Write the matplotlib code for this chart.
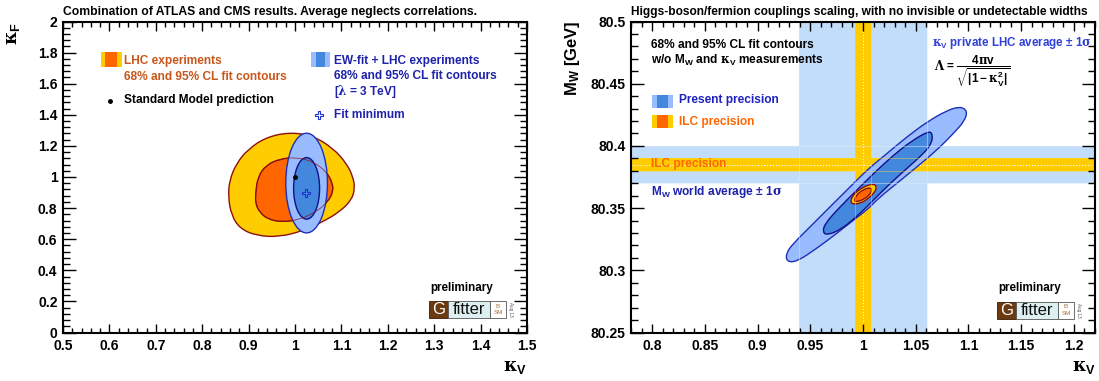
import matplotlib
matplotlib.use("Agg")
import matplotlib.pyplot as plt
from matplotlib.patches import Rectangle, Ellipse, PathPatch
from matplotlib.path import Path
from matplotlib.ticker import FixedLocator, MultipleLocator, FixedFormatter

plt.rcParams['font.family'] = ['Liberation Sans', 'DejaVu Sans']
plt.rcParams['font.weight'] = 'bold'
plt.rcParams['mathtext.fontset'] = 'custom'
plt.rcParams['mathtext.rm'] = 'DejaVu Serif'
plt.rcParams['mathtext.it'] = 'Liberation Sans:bold'
plt.rcParams['mathtext.bf'] = 'Liberation Sans:bold'
plt.rcParams['mathtext.sf'] = 'Liberation Sans:bold'
plt.rcParams['mathtext.default'] = 'bf'

# ---------------- data: left panel (kappa_V, kappa_F) ----------------
lhc95_kv = [0.989, 1.039, 1.082, 1.111, 1.125, 1.129, 1.122, 1.096, 1.060, 1.017,
            0.967, 0.917, 0.881, 0.863, 0.856, 0.859, 0.874, 0.899, 0.938]
lhc95_kf = [1.288, 1.265, 1.185, 1.088, 1.002, 0.927, 0.852, 0.776, 0.712, 0.654,
            0.615, 0.622, 0.669, 0.755, 0.873, 0.981, 1.088, 1.179, 1.256]
lhc68_kv = [0.915, 0.920, 0.938, 0.967, 1.003, 1.039, 1.068, 1.081, 1.082, 1.071,
            1.046, 1.010, 0.974, 0.942, 0.923, 0.915]
lhc68_kf = [0.895, 1.002, 1.077, 1.116, 1.127, 1.099, 1.034, 0.959, 0.905, 0.841,
            0.776, 0.727, 0.710, 0.727, 0.776, 0.830]
# EW-fit + LHC ellipses: centre (kV, kF), full width, full height
ew95_center = (1.025, 0.961)
ew95_size = (0.0898, 0.641)
ew68_center = (1.025, 0.927)
ew68_size = (0.056, 0.396)
sm_point = (1.0, 1.0)
fit_min = (1.023, 0.90)

left_xticks = [0.5, 0.6, 0.7, 0.8, 0.9, 1.0, 1.1, 1.2, 1.3, 1.4, 1.5]
left_xlabels = ['0.5', '0.6', '0.7', '0.8', '0.9', '1', '1.1', '1.2', '1.3', '1.4', '1.5']
left_yticks = [0, 0.2, 0.4, 0.6, 0.8, 1.0, 1.2, 1.4, 1.6, 1.8, 2.0]
left_ylabels = ['0', '0.2', '0.4', '0.6', '0.8', '1', '1.2', '1.4', '1.6', '1.8', '2']

# ---------------- data: right panel (kappa_V, M_W) ----------------
pres95_kv = [1.0919, 1.0989, 1.0967, 1.0856, 1.0698, 1.0509, 1.0319, 1.0161, 1.0035, 0.9908,
             0.9751, 0.9561, 0.9372, 0.9277, 0.9270, 0.9339, 0.9498, 0.9687, 0.9877, 1.0035,
             1.0224, 1.0414, 1.0604, 1.0793]
pres95_mw = [80.4317, 80.4284, 80.4204, 80.4098, 80.3964, 80.3830, 80.3697, 80.3590, 80.3483, 80.3403,
             80.3296, 80.3176, 80.3069, 80.3069, 80.3136, 80.3216, 80.3349, 80.3510, 80.3670, 80.3804,
             80.3937, 80.4071, 80.4191, 80.4284]
pres68_kv = [1.0619, 1.0660, 1.0651, 1.0572, 1.0414, 1.0256, 1.0098, 0.9940, 0.9782, 0.9656,
             0.9618, 0.9640, 0.9782, 0.9940, 1.0098, 1.0287, 1.0445]
pres68_mw = [80.4119, 80.4098, 80.4018, 80.3937, 80.3817, 80.3697, 80.3563, 80.3430, 80.3323, 80.3283,
             80.3309, 80.3377, 80.3510, 80.3643, 80.3777, 80.3924, 80.4030]
ilc95_kv = [0.9893, 0.9883, 0.9924, 1.0003, 1.0098, 1.0129, 1.0114, 1.0051, 0.9972]
ilc95_mw = [80.3531, 80.3569, 80.3622, 80.3670, 80.3697, 80.3675, 80.3630, 80.3577, 80.3537]
ilc68_kv = [0.9915, 0.9940, 1.0003, 1.0066, 1.0085, 1.0066, 1.0009, 0.9940]
ilc68_mw = [80.3558, 80.3609, 80.3649, 80.3665, 80.3649, 80.3609, 80.3571, 80.3550]

kv_avg, kv_err_now, kv_err_ilc = 1.0, 0.061, 0.0075
mw_avg, mw_err_now, mw_err_ilc = 80.385, 0.015, 0.005

right_xticks = [0.8, 0.85, 0.9, 0.95, 1.0, 1.05, 1.1, 1.15, 1.2]
right_xlabels = ['0.8', '0.85', '0.9', '0.95', '1', '1.05', '1.1', '1.15', '1.2']
right_yticks = [80.25, 80.3, 80.35, 80.4, 80.45, 80.5]
right_ylabels = ['80.25', '80.3', '80.35', '80.4', '80.45', '80.5']

# ---------------- styles ----------------
YELLOW = '#FFCC00'
ORANGE = '#FF6600'
DARKRED = '#8B1010'
LBLUE = '#99BBFF'
DBLUE = '#4488DD'
BLUEEDGE = '#1F2FB8'
BAND = '#C2DDFA'
LHC_TXT = '#C8561A'
EW_TXT = '#1E22AA'
KV_TXT = '#3040D8'

KAPPA_V = r'$\mathrm{\kappa}_{V}$'
KAPPA_F = r'$\mathrm{\kappa}_{F}$'

W, H = 1099, 381
fig = plt.figure(figsize=(W / 100, H / 100), dpi=100)


def ftext(px, py, s, **kw):
    kw.setdefault('va', 'center')
    kw.setdefault('ha', 'left')
    return fig.text(px / W, 1 - py / H, s, **kw)


def frect(x0, y0, x1, y1, **kw):
    kw.setdefault('lw', 0)
    fig.add_artist(Rectangle((x0 / W, 1 - y1 / H), (x1 - x0) / W, (y1 - y0) / H,
                             transform=fig.transFigure, **kw))


def smooth_closed(xs, ys):
    pts = list(zip(xs, ys))
    n = len(pts)
    mids = [((pts[i][0] + pts[(i + 1) % n][0]) / 2, (pts[i][1] + pts[(i + 1) % n][1]) / 2)
            for i in range(n)]
    verts = [mids[-1]]
    codes = [Path.MOVETO]
    for i in range(n):
        verts += [pts[i], mids[i]]
        codes += [Path.CURVE3, Path.CURVE3]
    verts.append(mids[-1])
    codes.append(Path.CLOSEPOLY)
    return Path(verts, codes)


top_px, bot_px = 21.5, 332.5
ax1 = fig.add_axes([63 / W, 1 - bot_px / H, 464 / W, (bot_px - top_px) / H])
ax2 = fig.add_axes([631 / W, 1 - bot_px / H, 464 / W, (bot_px - top_px) / H])

# ---------------- left panel ----------------
ax1.set_xlim(0.5, 1.5)
ax1.set_ylim(0, 2)
ax1.add_patch(PathPatch(smooth_closed(lhc95_kv, lhc95_kf), facecolor=YELLOW, edgecolor=DARKRED, lw=1.0, zorder=1))
ax1.add_patch(PathPatch(smooth_closed(lhc68_kv, lhc68_kf), facecolor=ORANGE, edgecolor=DARKRED, lw=1.0, zorder=1.1))
ax1.add_patch(Ellipse(ew95_center, ew95_size[0], ew95_size[1], facecolor=LBLUE, edgecolor=BLUEEDGE, lw=1.0, zorder=1.2))
ax1.add_patch(Ellipse(ew68_center, ew68_size[0], ew68_size[1], facecolor=DBLUE, edgecolor='#10108A', lw=1.0, zorder=1.3))
ax1.add_patch(PathPatch(smooth_closed(lhc68_kv, lhc68_kf), facecolor='none', edgecolor=DARKRED, lw=0.6, alpha=0.8, zorder=1.4))
ax1.plot([sm_point[0]], [sm_point[1]], 'o', color='black', ms=2.5, zorder=3)
ax1.plot([fit_min[0]], [fit_min[1]], 'P', mfc='none', mec='#1E30D0', mew=0.8, ms=6, zorder=3)

# ---------------- right panel ----------------
ax2.set_xlim(0.78, 1.22)
ax2.set_ylim(80.25, 80.5)
ax2.axvspan(kv_avg - kv_err_now, kv_avg + kv_err_now, color=BAND, lw=0, zorder=0.5)
ax2.axhspan(mw_avg - mw_err_now, mw_avg + mw_err_now, color=BAND, lw=0, zorder=0.5)
ax2.axvspan(kv_avg - kv_err_ilc, kv_avg + kv_err_ilc, color=YELLOW, lw=0, zorder=0.6)
ax2.axhspan(mw_avg - mw_err_ilc, mw_avg + mw_err_ilc, color=YELLOW, lw=0, zorder=0.6)
ax2.axvline(kv_avg, color='white', ls=':', lw=0.8, zorder=0.7)
ax2.axhline(mw_avg, color='white', ls=':', lw=0.8, zorder=0.7)

ax2.add_patch(PathPatch(smooth_closed(pres95_kv, pres95_mw), facecolor=LBLUE, edgecolor=BLUEEDGE, lw=1.0, zorder=1))
ax2.add_patch(PathPatch(smooth_closed(pres68_kv, pres68_mw), facecolor=DBLUE, edgecolor='#10108A', lw=1.0, zorder=1.1))
ax2.add_patch(PathPatch(smooth_closed(ilc95_kv, ilc95_mw), facecolor=YELLOW, edgecolor=DARKRED, lw=1.0, zorder=1.2))
ax2.add_patch(PathPatch(smooth_closed(ilc68_kv, ilc68_mw), facecolor=ORANGE, edgecolor=DARKRED, lw=1.0, zorder=1.3))
# faint band edges seen through the contours
for v in (kv_avg - kv_err_now, kv_avg + kv_err_now):
    ax2.axvline(v, color='#D8E8FC', lw=0.8, alpha=0.5, zorder=1.5)
for v in (mw_avg - mw_err_now, mw_avg + mw_err_now):
    ax2.axhline(v, color='#D8E8FC', lw=0.8, alpha=0.5, zorder=1.5)
for v in (kv_avg - kv_err_ilc, kv_avg + kv_err_ilc):
    ax2.axvline(v, color='#FFD633', lw=0.7, alpha=0.45, zorder=1.5)
for v in (mw_avg - mw_err_ilc, mw_avg + mw_err_ilc):
    ax2.axhline(v, color='#FFD633', lw=0.7, alpha=0.45, zorder=1.5)

# ---------------- axes styling ----------------
ax1.xaxis.set_major_locator(FixedLocator(left_xticks))
ax1.xaxis.set_major_formatter(FixedFormatter(left_xlabels))
ax1.xaxis.set_minor_locator(MultipleLocator(0.02))
ax1.yaxis.set_major_locator(FixedLocator(left_yticks))
ax1.yaxis.set_major_formatter(FixedFormatter(left_ylabels))
ax1.yaxis.set_minor_locator(MultipleLocator(0.04))

ax2.xaxis.set_major_locator(FixedLocator(right_xticks))
ax2.xaxis.set_major_formatter(FixedFormatter(right_xlabels))
ax2.xaxis.set_minor_locator(MultipleLocator(0.01))
ax2.yaxis.set_major_locator(FixedLocator(right_yticks))
ax2.yaxis.set_major_formatter(FixedFormatter(right_ylabels))
ax2.yaxis.set_minor_locator(MultipleLocator(0.01))

for ax in (ax1, ax2):
    ax.tick_params(which='both', direction='in', top=True, right=True, width=1.0, labelsize=10, color='black')
    ax.tick_params(axis='x', which='major', length=6.5, pad=5)
    ax.tick_params(axis='x', which='minor', length=3.3)
    ax.tick_params(axis='y', which='major', length=9.5, pad=4)
    ax.tick_params(axis='y', which='minor', length=4.8)
    for sp in ax.spines.values():
        sp.set_linewidth(1.5)
        sp.set_zorder(5)

# ---------------- texts left ----------------
LFS = 8.6
ftext(63, 12, 'Combination of ATLAS and CMS results. Average neglects correlations.', fontsize=8.75)
ftext(14, 22, KAPPA_F, rotation=90, ha='center', va='top', fontsize=13)
ftext(527, 368, KAPPA_V, ha='right', fontsize=13)

frect(100.5, 52, 105, 67, facecolor=YELLOW)
frect(105, 52, 116.5, 67, facecolor=ORANGE)
frect(116.5, 52, 121.6, 67, facecolor=YELLOW)
ftext(124, 60.6, 'LHC experiments', color=LHC_TXT, fontsize=LFS)
ftext(124, 77, '68% and 95% CL fit contours', color=LHC_TXT, fontsize=LFS)
ftext(124, 100.5, 'Standard Model prediction', color='black', fontsize=LFS)
ax1.plot([110 / W], [1 - 100.5 / H], 'o', color='black', ms=2.5, transform=fig.transFigure, clip_on=False)

frect(311.4, 52, 316.3, 67, facecolor=LBLUE)
frect(316.3, 52, 325, 67, facecolor=DBLUE)
frect(325, 52, 329.7, 67, facecolor=LBLUE)
ftext(334, 60.6, 'EW-fit + LHC experiments', color=EW_TXT, fontsize=LFS)
ftext(334, 76, '68% and 95% CL fit contours', color=EW_TXT, fontsize=LFS)
ftext(334, 91.7, r'[$\mathrm{\lambda}$ = 3 TeV]', color=EW_TXT, fontsize=LFS)
ftext(334, 115, 'Fit minimum', color=EW_TXT, fontsize=LFS)
ax1.plot([319 / W], [1 - 115 / H], 'P', mfc='none', mec='#1E30D0', mew=0.8, ms=6,
         transform=fig.transFigure, clip_on=False)

# ---------------- texts right ----------------
ftext(631, 12, 'Higgs-boson/fermion couplings scaling, with no invisible or undetectable widths', fontsize=8.6)
ftext(573, 21, r'M$_{W}$ [GeV]', rotation=90, ha='center', va='top', fontsize=12)
ftext(1096, 368, KAPPA_V, ha='right', fontsize=13)

ftext(651, 44.5, '68% and 95% CL fit contours', color='black', fontsize=LFS)
ftext(651, 60, r'w/o M$_{W}$ and $\mathrm{\kappa}_{V}$ measurements', color='black', fontsize=LFS)
ftext(932, 43, r'$\mathrm{\kappa}_{V}$ private LHC average $\pm$ 1$\mathrm{\sigma}$', color=KV_TXT, fontsize=8.4)
ftext(934, 71, r'$\mathrm{\Lambda}$ = $\dfrac{4\mathrm{\pi} v}{\sqrt{|1-\mathrm{\kappa}_{V}^{2}|}}$',
      color='black', fontsize=8.5)

frect(651.5, 94.5, 657.5, 107.5, facecolor=LBLUE)
frect(657.5, 94.5, 668, 107.5, facecolor=DBLUE)
frect(668, 94.5, 673.4, 107.5, facecolor=LBLUE)
ftext(679, 100.5, 'Present precision', color='#1E22C0', fontsize=LFS)
frect(651.5, 114.6, 657.5, 127.6, facecolor=YELLOW)
frect(657.5, 114.6, 668, 127.6, facecolor=ORANGE)
frect(668, 114.6, 673.4, 127.6, facecolor=YELLOW)
ftext(679, 121.6, 'ILC precision', color=ORANGE, fontsize=LFS)
ftext(651, 164.3, 'ILC precision', color=ORANGE, fontsize=LFS)
ftext(651, 191.7, r'M$_{W}$ world average $\pm$ 1$\mathrm{\sigma}$', color=EW_TXT, fontsize=LFS)


# ---------------- Gfitter logos ----------------
def gfitter(x0, y0, pcx):
    h = 17
    ftext(pcx, 288, 'preliminary', ha='center', fontsize=8.4, color='black')
    frect(x0, y0, x0 + 19, y0 + h, facecolor='#6B3A10', edgecolor='#3A1A00', lw=0.6)
    ftext(x0 + 9.5, y0 + h / 2 + 0.5, 'G', color='white', fontsize=12, fontweight='normal', ha='center')
    frect(x0 + 19, y0, x0 + 61, y0 + h, facecolor='#DDEFF0', edgecolor='#555555', lw=0.6)
    ftext(x0 + 40, y0 + h / 2 + 0.5, 'fitter', color='#111111', fontsize=12, fontweight='normal', ha='center')
    frect(x0 + 61, y0, x0 + 77, y0 + h, facecolor='white', edgecolor='#555555', lw=0.6)
    ftext(x0 + 69, y0 + 5, 'B', color='#A0703A', fontsize=4.5, fontweight='normal', ha='center')
    ftext(x0 + 69, y0 + 12, 'SM', color='#A0703A', fontsize=4.5, fontweight='normal', ha='center')
    ftext(x0 + 81, y0 + h / 2, 'Aug 13', rotation=270, fontsize=3.3, fontweight='normal',
          color='#555555', ha='center')


gfitter(429, 301, 462)
gfitter(997, 301.5, 1030)

fig.savefig('out.png', dpi=100)
